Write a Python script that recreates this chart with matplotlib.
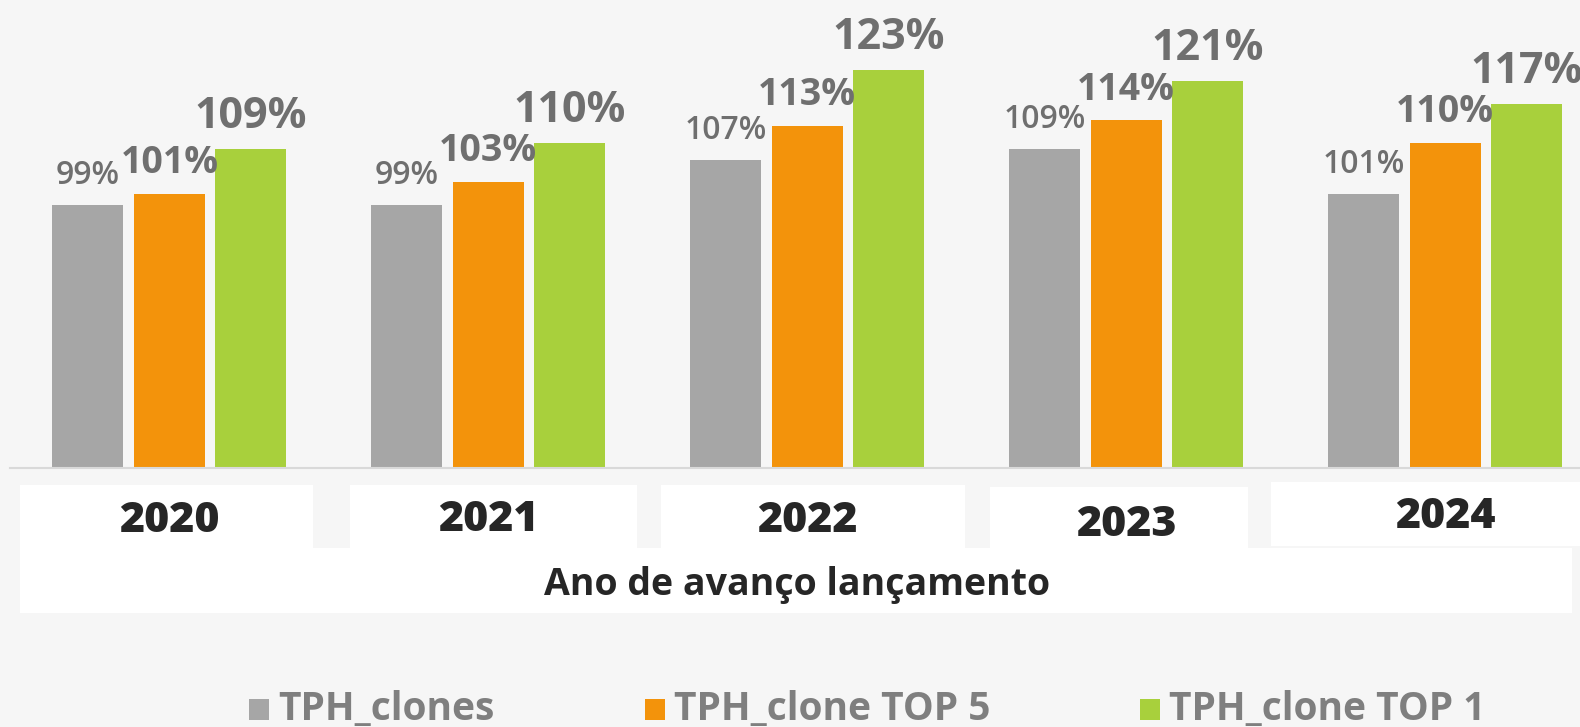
import matplotlib.pyplot as plt
from matplotlib.patches import Rectangle
from matplotlib.transforms import blended_transform_factory

# dados
anos = ["2020", "2021", "2022", "2023", "2024"]
tph_clones = [99, 99, 107, 109, 101]
tph_top5 = [101, 103, 113, 114, 110]
tph_top1 = [109, 110, 123, 121, 117]
series = ["TPH_clones", "TPH_clone TOP 5", "TPH_clone TOP 1"]
cores = ["#a6a6a6", "#f3930b", "#a8d03c"]

plt.rcParams['font.family'] = ['Open Sans', 'DejaVu Sans']

W, H = 1580, 727
fig = plt.figure(figsize=(W / 100, H / 100), dpi=100)
fig.patch.set_facecolor("#f6f6f6")

# caixas brancas atrás dos anos e do título (px a partir do topo)
caixas = [(20, 485, 313, 548), (350, 485, 637, 548), (661, 485, 965, 548),
          (990, 487, 1248, 548), (1271, 482, 1580, 546), (20, 548, 1572, 613)]
for x0, y0, x1, y1 in caixas:
    fig.add_artist(Rectangle((x0 / W, 1 - y1 / H), (x1 - x0) / W, (y1 - y0) / H,
                             transform=fig.transFigure, facecolor="white",
                             edgecolor="none", zorder=0))

ax = fig.add_axes([10 / W, (H - 468) / H, (W - 10) / W, 468 / H])
ax.set_facecolor("none")
ax.set_xlim(-0.5, -0.5 + 1570 / 318.9)
ax.set_ylim(52.2, 52.2 + 468 / 5.625)

x = range(len(anos))
larg = 0.2226
passo = 0.2556
valores = [tph_clones, tph_top5, tph_top1]
tam = [23, 27, 31]
peso = ["semibold", "bold", "bold"]
for i, vals in enumerate(valores):
    pos = [xi + (i - 1) * passo for xi in x]
    barras = ax.bar(pos, vals, width=larg, color=cores[i], bottom=0, zorder=2)
    for b, v in zip(barras, vals):
        ax.annotate(f"{v}%", (b.get_x() + b.get_width() / 2, v),
                    xytext=(0, 15), textcoords="offset points",
                    ha="center", va="baseline", fontsize=tam[i],
                    fontweight=peso[i], color="#6f6f6f")

for s in ["top", "right", "left"]:
    ax.spines[s].set_visible(False)
ax.spines["bottom"].set_color("#d9d9d9")
ax.spines["bottom"].set_linewidth(1.5)
ax.set_yticks([])
ax.set_xticks([])

# anos
tr = blended_transform_factory(ax.transData, fig.transFigure)
base_anos = [532, 531, 532, 536, 528]
for xi, ano, yb in zip(x, anos, base_anos):
    fig.text(xi, 1 - yb / H, ano, transform=tr, ha="center", va="baseline",
             fontsize=31, fontweight="heavy", color="#262626")

fig.text(797 / W, 1 - 595 / H, "Ano de avanço lançamento", ha="center",
         va="baseline", fontsize=27, fontweight="bold", color="#262626")

# legenda
leg_x = [249, 645, 1140]
for lx, nome, cor in zip(leg_x, series, cores):
    fig.add_artist(Rectangle((lx / W, 7 / H), 20 / W, 21 / H,
                             transform=fig.transFigure, facecolor=cor,
                             edgecolor="none"))
    fig.text((lx + 29) / W, 6.5 / H, nome, ha="left", va="baseline",
             fontsize=28, fontweight="bold", color="#7f7f7f")

fig.savefig("out.png", dpi=100, facecolor=fig.get_facecolor())
